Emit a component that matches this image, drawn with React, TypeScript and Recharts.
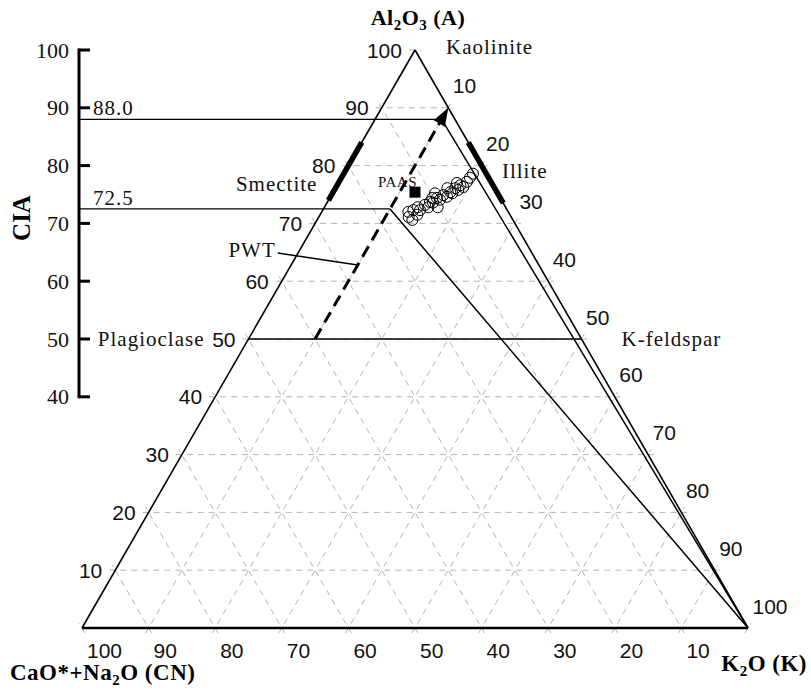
import React from "react";
import { ReferenceLine, Scatter, ScatterChart, XAxis, YAxis } from "recharts";

const WIDTH = 811;
const HEIGHT = 691;
// the CIA axis sits a hair left of the CN corner
const X_MIN = -0.45;
const EXT = 0.9;

const gridSteps = [10, 20, 30, 40, 50, 60, 70, 80, 90, 100];
const ciaTicks = [40, 50, 60, 70, 80, 90, 100];
const alTickLabels = [10, 20, 30, 40, 50, 60, 70, 80, 90, 100];
const kTickLabels = [10, 20, 30, 40, 50, 60, 70, 80, 90, 100];
const cnTickLabels = [100, 90, 80, 70, 60, 50, 40, 30, 20, 10];

const ciaLevels = [88.0, 72.5];
const pwtK = 10;
const pwtStartA = 50;
const pwtEndA = 90;
const pwtLeaderA = 62.8;
const feldsparA = 50;
const smectiteA = [74, 84];
const illiteA = [73.5, 84];

const sampleA = [71.1, 72.0, 72.3, 72.8, 72.3, 73.2, 73.7, 73.6, 74.4, 74.1, 74.9, 74.6, 75.4, 75.2, 76.1, 75.8, 76.6, 76.3, 77.2, 77.9, 74.4, 72.8, 72.8, 76.1, 77.0, 71.5, 70.6, 75.2, 78.6];
const sampleK = [13.5, 13.0, 13.6, 14.0, 14.6, 14.9, 15.4, 15.9, 16.1, 16.7, 16.8, 17.5, 17.6, 18.0, 18.0, 18.6, 18.5, 19.1, 19.2, 19.3, 15.4, 15.6, 17.0, 16.8, 17.8, 14.6, 14.3, 15.4, 19.4];
const paasA = 75.4;
const paasK = 12.3;

type Pt = { x: number; y: number; label?: string };

// ternary (A, K) -> plot coords, CN corner at x=0, K corner at x=100
const tern = (a: number, k: number): Pt => ({ x: k + a / 2, y: a });
const cnLine = (c: number, a: number): Pt => tern(a, 100 - c - a);

const gridSegments: Pt[][] = gridSteps.flatMap((v) => [
  [{ x: v / 2 - EXT, y: v }, { x: 100 - v / 2 + EXT, y: v }],
  [tern(-EXT, v), tern(100 - v + EXT, v)],
  [cnLine(v, -EXT), cnLine(v, 100 - v + EXT)],
]);

const apex = tern(100, 0);
const cnCorner = tern(0, 0);
const kCorner = tern(0, 100);

const samples = sampleA.map((a, i) => tern(a, sampleK[i]));

const SANS_FONT = "'Liberation Sans', Arial, sans-serif";
const SERIF_FONT = "'Liberation Serif', 'Times New Roman', serif";
const SANS = { fontFamily: SANS_FONT, fontSize: 21, fill: "#111" };
const SERIF = { fontFamily: SERIF_FONT, fontSize: 21, fill: "#111", letterSpacing: 1 };
const BOLD = { fontFamily: SERIF_FONT, fontWeight: 700, fill: "#000" };

const notes = [
  { text: "Kaolinite", at: apex, dx: 31, dy: -3, anchor: "start" },
  { text: "Smectite", at: tern(smectiteA[0], 0), dx: -11, dy: -16, anchor: "end" },
  { text: "Illite", at: tern(79, 21), dx: 17, dy: 0, anchor: "start" },
  { text: "Plagioclase", at: tern(feldsparA, 0), dx: -44, dy: 0, anchor: "end" },
  { text: "K-feldspar", at: tern(feldsparA, 100 - feldsparA), dx: 40, dy: 0, anchor: "start" },
];

const textShape = (dx: number, dy: number, anchor: string, style: any) => (props: any) => (
  <text
    x={props.cx + dx}
    y={props.cy + dy}
    textAnchor={anchor}
    dominantBaseline="central"
    fontFamily={style.fontFamily}
    style={style}
  >
    {props.payload.label}
  </text>
);

const CiaTick = (props: any) => {
  const { x, y, payload } = props;
  return (
    <g>
      <line x1={x} y1={y} x2={x + 11} y2={y} stroke="#000" strokeWidth={3} />
      <text
        x={x - 10}
        y={y}
        textAnchor="end"
        dominantBaseline="central"
        fontFamily={SERIF_FONT}
        style={{ fontFamily: SERIF_FONT, fontSize: 22, fill: "#111" }}
      >
        {payload.value}
      </text>
    </g>
  );
};

const ArrowHead = (props: any) => {
  const { cx, cy } = props;
  const ux = 0.5;
  const uy = -0.866;
  const len = 18;
  const half = 6.5;
  const bx = cx - ux * len;
  const by = cy - uy * len;
  const pts = `${cx},${cy} ${bx - uy * half},${by + ux * half} ${bx + uy * half},${by - ux * half}`;
  return <polygon points={pts} fill="#000" />;
};

const OpenCircle = (props: any) => (
  <circle cx={props.cx} cy={props.cy} r={5.5} fill="none" stroke="#000" strokeWidth={1} />
);

const Square = (props: any) => (
  <rect x={props.cx - 5.5} y={props.cy - 5.5} width={11} height={11} fill="#000" />
);

const Leader = (props: any) => {
  const { cx, cy } = props;
  return (
    <g>
      <line x1={cx} y1={cy} x2={cx - 80} y2={cy - 12} stroke="#000" strokeWidth={1.5} />
      <text x={cx - 82} y={cy - 15} textAnchor="end" dominantBaseline="central" fontFamily={SERIF_FONT} style={SERIF}>
        PWT
      </text>
    </g>
  );
};

const seg = (p: Pt, q: Pt) => [
  { x: p.x, y: p.y },
  { x: q.x, y: q.y },
];

export default function App() {
  return (
    <div style={{ position: "absolute", left: 0, top: 0, width: WIDTH, height: HEIGHT, background: "#fff" }}>
      <ScatterChart
        width={WIDTH}
        height={HEIGHT}
        margin={{ top: 50, right: 63, bottom: 63, left: 0 }}
      >
        <XAxis type="number" dataKey="x" domain={[X_MIN, 100]} hide />
        <YAxis
          type="number"
          dataKey="y"
          domain={[0, 100]}
          ticks={ciaTicks}
          interval={0}
          width={79}
          axisLine={false}
          tickLine={false}
          tickSize={0}
          tickMargin={0}
          tick={<CiaTick />}
        />

        {gridSegments.map((s, i) => (
          <ReferenceLine
            key={`g${i}`}
            segment={seg(s[0], s[1])}
            stroke="#b4b4b4"
            strokeWidth={1}
            strokeDasharray="6 5"
            ifOverflow="visible"
          />
        ))}

        {/* triangle */}
        <ReferenceLine segment={seg(apex, cnCorner)} stroke="#000" strokeWidth={1.6} ifOverflow="visible" />
        <ReferenceLine segment={seg(apex, kCorner)} stroke="#000" strokeWidth={1.6} ifOverflow="visible" />
        <ReferenceLine segment={seg(cnCorner, kCorner)} stroke="#000" strokeWidth={2.4} ifOverflow="visible" />

        {/* plagioclase - K-feldspar join */}
        <ReferenceLine
          segment={seg(tern(feldsparA, 0), tern(feldsparA, 100 - feldsparA))}
          stroke="#000"
          strokeWidth={1.6}
          ifOverflow="visible"
        />

        {/* CIA axis */}
        <ReferenceLine
          segment={[{ x: X_MIN, y: ciaTicks[0] }, { x: X_MIN, y: ciaTicks[ciaTicks.length - 1] }]}
          stroke="#000"
          strokeWidth={3}
          strokeLinecap="square"
          ifOverflow="visible"
        />

        {ciaLevels.map((lvl) => (
          <ReferenceLine
            key={`c${lvl}`}
            segment={[{ x: X_MIN, y: lvl }, tern(lvl, pwtK)]}
            stroke="#000"
            strokeWidth={1.3}
            ifOverflow="visible"
          />
        ))}
        {ciaLevels.map((lvl) => (
          <ReferenceLine
            key={`k${lvl}`}
            segment={seg(tern(lvl, pwtK), kCorner)}
            stroke="#000"
            strokeWidth={1.5}
            ifOverflow="visible"
          />
        ))}

        {/* mineral bars */}
        <ReferenceLine
          segment={seg(tern(smectiteA[0], 0), tern(smectiteA[1], 0))}
          stroke="#000"
          strokeWidth={5.5}
          ifOverflow="visible"
        />
        <ReferenceLine
          segment={seg(tern(illiteA[0], 100 - illiteA[0]), tern(illiteA[1], 100 - illiteA[1]))}
          stroke="#000"
          strokeWidth={5.5}
          ifOverflow="visible"
        />

        {/* predicted weathering trend */}
        <ReferenceLine
          segment={seg(tern(pwtStartA, pwtK), tern(pwtEndA - 2, pwtK))}
          stroke="#000"
          strokeWidth={3}
          strokeDasharray="12 7"
          ifOverflow="visible"
        />
        <Scatter data={[tern(pwtEndA, pwtK)]} shape={ArrowHead} isAnimationActive={false} />
        <Scatter data={[tern(pwtLeaderA, pwtK)]} shape={Leader} isAnimationActive={false} />

        <Scatter data={samples} shape={OpenCircle} isAnimationActive={false} />
        <Scatter data={[tern(paasA, paasK)]} shape={Square} isAnimationActive={false} />
        <Scatter
          data={[{ ...tern(paasA, paasK), label: "PAAS" }]}
          shape={textShape(2, -10, "end", { ...SERIF, fontSize: 15, letterSpacing: 0.5 })}
          isAnimationActive={false}
        />

        {/* ternary tick labels */}
        <Scatter
          data={alTickLabels.map((v) => ({ ...tern(v, 0), label: String(v) }))}
          shape={textShape(-13, 0, "end", SANS)}
          isAnimationActive={false}
        />
        <Scatter
          data={kTickLabels.map((v) => ({ ...tern(100 - v, v), label: String(v) }))}
          shape={textShape(4.5, -22, "start", SANS)}
          isAnimationActive={false}
        />
        <Scatter
          data={cnTickLabels.map((c) => ({ ...tern(0, 100 - c), label: String(c) }))}
          shape={textShape(5, 22, "start", SANS)}
          isAnimationActive={false}
        />

        {/* CIA level labels */}
        <Scatter
          data={ciaLevels.map((lvl) => ({ x: X_MIN, y: lvl, label: lvl.toFixed(1) }))}
          shape={textShape(14, -11, "start", SERIF)}
          isAnimationActive={false}
        />

        {notes.map((n) => (
          <Scatter
            key={n.text}
            data={[{ ...n.at, label: n.text }]}
            shape={textShape(n.dx, n.dy, n.anchor, SERIF)}
            isAnimationActive={false}
          />
        ))}
      </ScatterChart>

      <svg
        width={WIDTH}
        height={HEIGHT}
        style={{ position: "absolute", left: 0, top: 0, pointerEvents: "none" }}
      >
        <text x={418} y={25} textAnchor="middle" style={{ ...BOLD, fontSize: 22, letterSpacing: 0.5 }}>
          Al<tspan dy={5} fontSize={15}>2</tspan>
          <tspan dy={-5}>O</tspan>
          <tspan dy={5} fontSize={15}>3</tspan>
          <tspan dy={-5}> (A)</tspan>
        </text>
        <text
          transform="translate(30,218) rotate(-90)"
          textAnchor="middle"
          style={{ ...BOLD, fontSize: 25 }}
        >
          CIA
        </text>
        <text x={10} y={680} style={{ ...BOLD, fontSize: 23, letterSpacing: 0.5 }}>
          CaO*+Na<tspan dy={5} fontSize={15}>2</tspan>
          <tspan dy={-5}>O (CN)</tspan>
        </text>
        <text x={807} y={671} textAnchor="end" style={{ ...BOLD, fontSize: 23, letterSpacing: 0.5 }}>
          K<tspan dy={5} fontSize={15}>2</tspan>
          <tspan dy={-5}>O (K)</tspan>
        </text>
      </svg>
    </div>
  );
}
